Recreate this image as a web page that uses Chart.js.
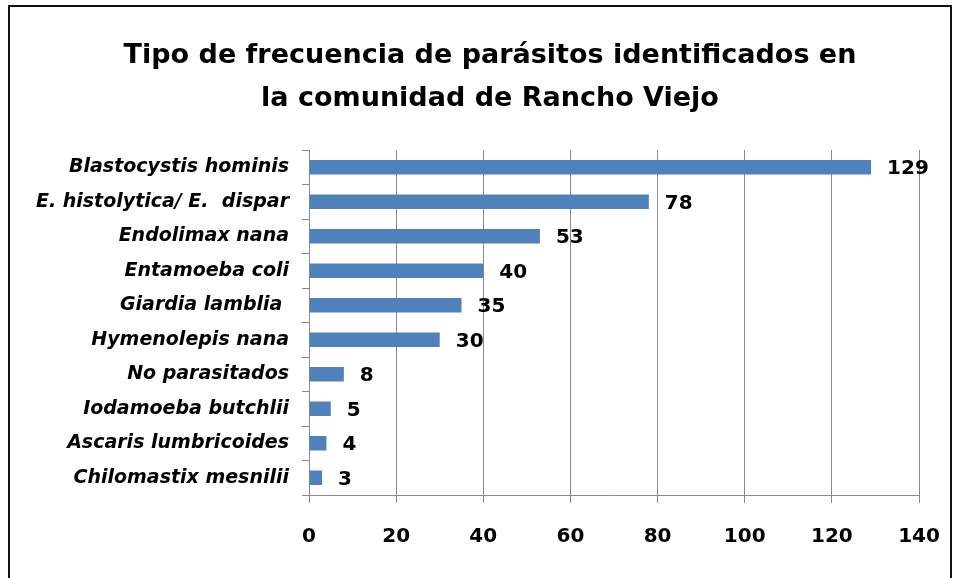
<!DOCTYPE html>
<html>
<head>
<meta charset="utf-8">
<script src="https://cdn.jsdelivr.net/npm/chart.js@4/dist/chart.umd.min.js"></script>
<style>
html,body{margin:0;padding:0;background:#fff;}
#wrap{position:relative;width:956px;height:578px;}
</style>
</head>
<body>
<div id="wrap"><canvas id="c" width="956" height="578"></canvas></div>
<script>
const titleLines = ["Tipo de frecuencia de parásitos identificados en", "la comunidad de Rancho Viejo"];
const categories = ["Blastocystis hominis", "E. histolytica/ E.  dispar", "Endolimax nana", "Entamoeba coli", "Giardia lamblia ", "Hymenolepis nana", "No parasitados", "Iodamoeba butchlii", "Ascaris lumbricoides", "Chilomastix mesnilii"];
const counts = [129, 78, 53, 40, 35, 30, 8, 5, 4, 3];
const xTicks = [0, 20, 40, 60, 80, 100, 120, 140];

const FONT = "'DejaVu Sans', 'Liberation Sans', Arial, sans-serif";

const frameAndTitle = {
  id: 'frameAndTitle',
  afterDraw(chart) {
    const ctx = chart.ctx;
    ctx.save();
    ctx.strokeStyle = '#111';
    ctx.lineWidth = 2;
    ctx.strokeRect(9, 6, 942, 590);
    ctx.fillStyle = '#000';
    ctx.font = "bold 27px " + FONT;
    ctx.textAlign = 'center';
    ctx.textBaseline = 'alphabetic';
    ctx.fillText(titleLines[0], 490, 63);
    ctx.fillText(titleLines[1], 490, 106);
    ctx.restore();
  }
};

const valueLabels = {
  id: 'valueLabels',
  afterDatasetsDraw(chart) {
    const ctx = chart.ctx;
    const meta = chart.getDatasetMeta(0);
    ctx.save();
    ctx.font = "bold 20px " + FONT;
    ctx.fillStyle = '#000';
    ctx.textAlign = 'left';
    ctx.textBaseline = 'middle';
    meta.data.forEach((bar, i) => {
      ctx.fillText(String(counts[i]), bar.x + 16, bar.y + 2);
    });
    ctx.restore();
  }
};

new Chart(document.getElementById('c'), {
  type: 'bar',
  data: {
    labels: categories,
    datasets: [{
      data: counts,
      backgroundColor: '#4F81BD',
      borderWidth: 0,
      categoryPercentage: 1.0,
      barPercentage: 0.42
    }]
  },
  options: {
    indexAxis: 'y',
    responsive: false,
    animation: false,
    devicePixelRatio: 1,
    layout: { padding: { left: 0, right: 37, top: 150, bottom: 0 } },
    plugins: {
      legend: { display: false },
      tooltip: { enabled: false },
      title: { display: false }
    },
    scales: {
      x: {
        min: 0, max: 140,
        afterBuildTicks(axis) { axis.ticks = xTicks.map(v => ({ value: v })); },
        afterFit(axis) { axis.height = 83; axis.paddingLeft = 0; axis.paddingRight = 0; },
        grid: { color: '#8a8a8a', lineWidth: 1, tickLength: 8, drawTicks: true },
        border: { display: true, color: '#8a8a8a' },
        ticks: {
          color: '#000',
          font: { family: FONT, size: 20, weight: 'bold' },
          padding: 22
        }
      },
      y: {
        afterFit(axis) { axis.width = 309; axis.paddingTop = 0; axis.paddingBottom = 0; },
        grid: { offset: true, drawOnChartArea: false, color: '#8a8a8a', tickLength: 7 },
        border: { display: true, color: '#8a8a8a' },
        ticks: {
          color: '#000',
          font: { family: FONT, size: 19, weight: 'bold', style: 'italic' },
          padding: 13
        }
      }
    }
  },
  plugins: [frameAndTitle, valueLabels]
});
</script>
</body>
</html>
